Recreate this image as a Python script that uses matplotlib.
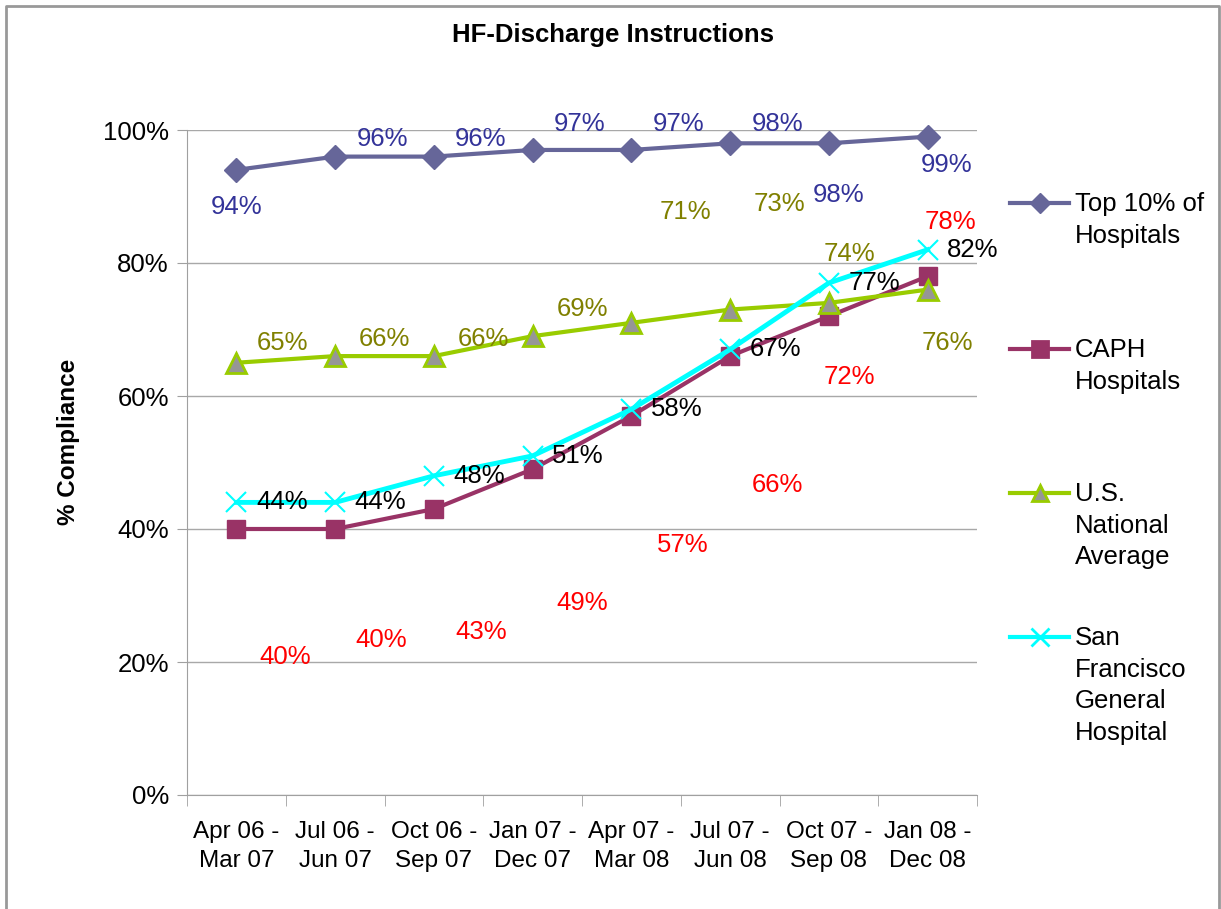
import matplotlib.pyplot as plt
from matplotlib.lines import Line2D

plt.rcParams['font.family'] = ['Liberation Sans', 'DejaVu Sans']

# ---- data ----
periods = ['Apr 06 -\nMar 07', 'Jul 06 -\nJun 07', 'Oct 06 -\nSep 07', 'Jan 07 -\nDec 07',
           'Apr 07 -\nMar 08', 'Jul 07 -\nJun 08', 'Oct 07 -\nSep 08', 'Jan 08 -\nDec 08']
top10 = [94, 96, 96, 97, 97, 98, 98, 99]
caph = [40, 40, 43, 49, 57, 66, 72, 78]
us_avg = [65, 66, 66, 69, 71, 73, 74, 76]
sfgh = [44, 44, 48, 51, 58, 67, 77, 82]

# label offsets (dx in categories, dy in %), as they sit in the original
top10_off = [(0, -5.6), (0.48, 2.7), (0.47, 2.7), (0.48, 3.9), (0.48, 3.9), (0.48, 2.9), (0.1, -7.8), (0.19, -4.2)]
caph_off = [(0.49, -19.2), (0.47, -16.7), (0.48, -18.5), (0.5, -20.1), (0.52, -19.4), (0.48, -19.4), (0.21, -9.2), (0.23, 8.1)]
us_off = [(0.47, 2.9), (0.5, 2.6), (0.5, 2.6), (0.5, 4.1), (0.55, 16.7), (0.5, 15.8), (0.21, 7.4), (0.2, -8.0)]
sf_off = [(0.46, 0)] * 8

FS = 18.5
W, H = 1221, 909
fig = plt.figure(figsize=(W / 100, H / 100), dpi=100)
ax = fig.add_axes([187 / W, (H - 795) / H, 790 / W, 665 / H])

x = list(range(len(periods)))

ax.plot(x, top10, color='#666699', lw=3, marker='D', ms=12, mfc='#666699', mec='#666699', clip_on=False, zorder=3)
ax.plot(x, caph, color='#993366', lw=3, marker='s', ms=13, mfc='#993366', mec='#993366', clip_on=False, zorder=3)
ax.plot(x, us_avg, color='#99CC00', lw=3, marker='^', ms=15, mfc='#969696', mec='#99CC00', mew=2, clip_on=False, zorder=3)
ax.plot(x, sfgh, color='#00FFFF', lw=3.5, marker='x', ms=15, mew=1.5, mec='#00FFFF', clip_on=False, zorder=4)

def put_labels(vals, offs, color):
    for i, (v, (dx, dy)) in enumerate(zip(vals, offs)):
        ax.text(i + dx, v + dy, f'{v}%', color=color, fontsize=FS, ha='center', va='center', zorder=5)

put_labels(top10, top10_off, '#333399')
put_labels(caph, caph_off, '#FF0000')
put_labels(us_avg, us_off, '#808000')
put_labels(sfgh, sf_off, 'black')

ax.set_xlim(-0.5, 7.5)
ax.set_ylim(0, 100)
ax.set_yticks([0, 20, 40, 60, 80, 100])
ax.set_yticklabels([f'{t}%' for t in [0, 20, 40, 60, 80, 100]], fontsize=FS)
ax.set_xticks(x)
ax.set_xticklabels(periods, fontsize=17.5, linespacing=1.4)
ax.set_xticks([i - 0.5 for i in range(9)], minor=True)
ax.tick_params(axis='x', which='major', length=0, pad=19)
ax.tick_params(axis='x', which='minor', length=8, color='#A0A0A0')
ax.tick_params(axis='y', length=7, color='#A0A0A0', pad=6)
ax.grid(axis='y', color='#A8A8A8', lw=1)
ax.set_axisbelow(True)
for s in ['top', 'right']:
    ax.spines[s].set_visible(False)
ax.spines['left'].set_color('#A0A0A0')
ax.spines['bottom'].set_color('#A0A0A0')

fig.text(613 / W, 1 - 35 / H, 'HF-Discharge Instructions', fontsize=FS, fontweight='bold', ha='center', va='center')
fig.text(68 / W, 1 - 442 / H, '% Compliance', fontsize=17.5, fontweight='bold', rotation=90, ha='center', va='center')

# legend drawn by hand so the marker lines up with the first text line
legend_items = [
    ('Top 10% of\nHospitals', '#666699', 'D', 10, '#666699', '#666699', 203),
    ('CAPH\nHospitals', '#993366', 's', 11, '#993366', '#993366', 349),
    ('U.S.\nNational\nAverage', '#99CC00', '^', 12, '#969696', '#99CC00', 493),
    ('San\nFrancisco\nGeneral\nHospital', '#00FFFF', 'x', 13, '#00FFFF', '#00FFFF', 637),
]
for label, c, m, ms, mfc, mec, yp in legend_items:
    yf = 1 - yp / H
    fig.add_artist(Line2D([1010 / W, 1069 / W], [yf, yf], color=c, lw=3, transform=fig.transFigure))
    fig.add_artist(Line2D([1040 / W], [yf], color=c, marker=m, ms=ms, mfc=mfc, mec=mec,
                          mew=2 if m != 'D' else 1, transform=fig.transFigure))
    fig.text(1075 / W, yf + 11 / H, label, fontsize=FS, ha='left', va='top', linespacing=1.4)

# outer frame
fig.add_artist(Line2D([6 / W, 6 / W, 1219 / W, 1219 / W], [0, 1 - 6 / H, 1 - 6 / H, 0],
                      color='#999999', lw=2, transform=fig.transFigure))

fig.savefig('out.png', dpi=100)
